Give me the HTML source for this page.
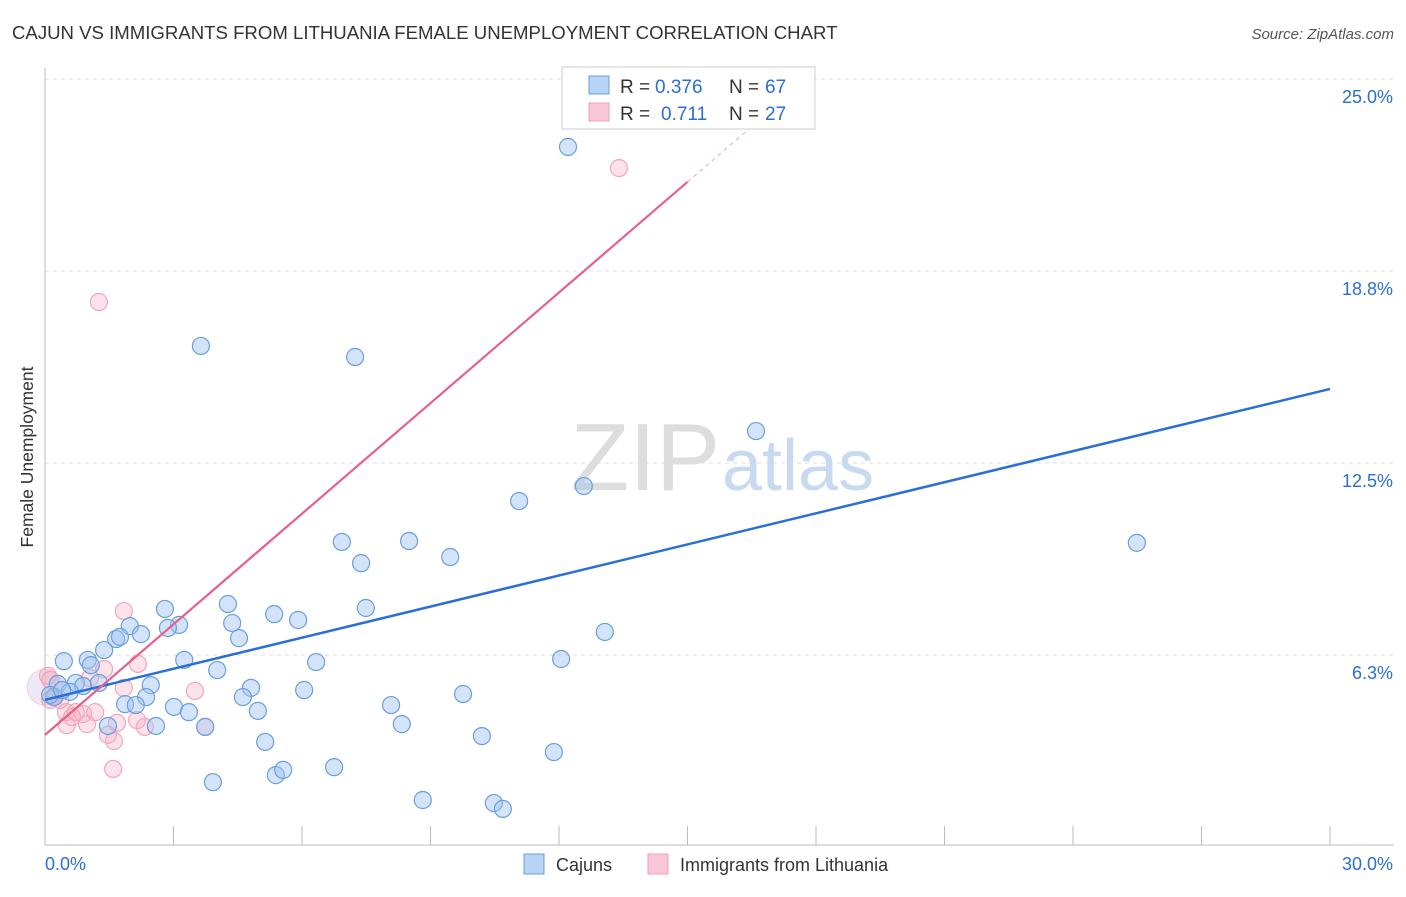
<!DOCTYPE html>
<html><head><meta charset="utf-8"><style>
body{margin:0;background:#fff;font-family:"Liberation Sans",sans-serif}
svg text{font-family:"Liberation Sans",sans-serif}
</style></head><body>
<svg id="c" width="1406" height="892">
<text x="12" y="39" font-size="18.6" fill="#333">CAJUN VS IMMIGRANTS FROM LITHUANIA FEMALE UNEMPLOYMENT CORRELATION CHART</text>
<text x="1394" y="39" font-size="15" fill="#555" font-style="italic" text-anchor="end">Source: ZipAtlas.com</text>
<text transform="translate(33,457) rotate(-90)" font-size="17.5" fill="#333" text-anchor="middle">Female Unemployment</text>
<g id="grid"></g>
<text x="720" y="490" font-size="96" fill="#ddd" font-family="Liberation Serif" text-anchor="end">ZIP</text>
<text x="722" y="490" font-size="72" fill="#c8daf0" text-anchor="start">atlas</text>
<g id="pts"></g>
<g id="lines"></g>
<rect x="562" y="67" width="253" height="62" fill="#fff" stroke="#ccc"/>
<rect x="589" y="76" width="20" height="18" fill="#b7d3f5" stroke="#6a9ee0"/>
<rect x="589" y="103" width="20" height="18" fill="#f8c6d4" stroke="#f0a0b8"/>
<g font-size="19" fill="#333">
<text x="620" y="93">R =</text><text x="655" y="93" fill="#2a6fd6">0.376</text><text x="729" y="93">N =</text><text x="765" y="93" fill="#2a6fd6">67</text>
</g>
<g font-size="19" fill="#333">
<text x="620" y="120">R =</text><text x="661" y="120" fill="#2a6fd6">0.711</text><text x="729" y="120">N =</text><text x="765" y="120" fill="#2a6fd6">27</text>
</g>
<rect x="524" y="854" width="20" height="20" fill="#b7d3f5" stroke="#6a9ee0"/>
<text x="556" y="871" font-size="18" fill="#333">Cajuns</text>
<rect x="648" y="854" width="20" height="20" fill="#f8c6d4" stroke="#f0a0b8"/>
<text x="680" y="871" font-size="18" fill="#333">Immigrants from Lithuania</text>
</svg>
<script>
const yTicks=[25,18.75,12.5,6.25];
const yTickLabels=["25.0%","18.8%","12.5%","6.3%"];
const xTickLabels=["0.0%","30.0%"];
const cajunX=[12.21,3.64,7.24,16.60,12.58,11.07,25.49,6.93,8.50,9.46,7.38,2.80,4.27,7.49,5.35,5.91,3.13,4.37,2.87,1.98,13.07,1.66,1.75,2.24,4.53,1.38,0.44,1.00,3.25,12.05,6.33,1.07,4.02,0.30,0.72,0.89,1.26,2.47,4.81,6.05,9.76,0.58,0.21,4.62,2.36,1.87,2.12,3.01,3.36,4.97,8.08,8.33,2.59,1.47,3.74,5.14,10.20,11.88,3.92,5.39,5.56,6.75,8.82,10.48,10.69,0.12,0.40];
const cajunY=[22.79,16.31,15.95,13.54,11.75,11.26,9.90,9.93,9.96,9.44,9.24,7.75,7.91,7.78,7.58,7.39,7.23,7.29,7.13,7.19,7.00,6.77,6.84,6.93,6.80,6.41,6.05,6.09,6.09,6.12,6.02,5.92,5.76,5.31,5.34,5.24,5.34,5.27,5.18,5.11,4.98,5.05,4.88,4.88,4.88,4.65,4.62,4.56,4.39,4.43,4.62,4.00,3.94,3.94,3.91,3.42,3.61,3.09,2.11,2.34,2.51,2.60,1.53,1.43,1.24,4.95,5.11];
const lithX=[13.40,1.26,1.84,2.17,1.38,0.07,1.05,1.84,3.50,0.23,0.12,0.49,0.72,0.89,1.17,0.63,1.68,2.15,2.33,0.51,0.98,3.74,1.47,1.61,1.59,0.12,0.35];
const lithY=[22.10,17.74,7.68,5.96,5.79,5.57,5.50,5.18,5.08,4.88,4.79,4.39,4.39,4.33,4.39,4.23,4.04,4.13,3.91,3.97,4.00,3.91,3.65,3.45,2.54,5.44,4.79];
const cajunFit=[4.79,14.91];
const lithFit=[3.65,1.2];
const X0=45,X1=1330,Y0=847,PX=192/6.25;
const sx=v=>X0+(v/30)*(X1-X0), sy=v=>Y0-v*PX;
const NS="http://www.w3.org/2000/svg";
function mk(tag,attrs,parent){const e=document.createElementNS(NS,tag);for(const k in attrs)e.setAttribute(k,attrs[k]);document.getElementById(parent).appendChild(e);return e;}
yTicks.forEach((t,i)=>{
 const l=mk('line',{x1:X0,x2:1394,y1:sy(t),y2:sy(t),stroke:'#ddd','stroke-dasharray':'4,4'},'grid');
 
 
 const tx=mk('text',{x:1393,y:sy(t)+24,'font-size':18,fill:'#2a6fd6','text-anchor':'end'},'grid');
 tx.textContent=yTickLabels[i];
 
 
});
let a=mk('line',{x1:X0,x2:X0,y1:68,y2:845,stroke:'#bbb'},'grid');


a=mk('line',{x1:X0,x2:1394,y1:845,y2:845,stroke:'#bbb'},'grid');


for(let i=0;i<=10;i++){
 const t=mk('line',{x1:sx(i*3),x2:sx(i*3),y1:826,y2:845,stroke:'#bbb'},'grid');
 
 
}
[[0,'start',45],[30,'end',1393]].forEach((d,i)=>{
 const tx=mk('text',{x:d[2],y:870,'font-size':18,fill:'#2a6fd6','text-anchor':d[1]},'grid');
 tx.textContent=xTickLabels[i];
 
 
});
let big=mk('circle',{cx:sx(0),cy:sy(5.2),r:18,fill:'rgba(210,185,220,0.35)',stroke:'rgba(230,180,205,0.5)'},'pts');


lithX.forEach((x,i)=>{
 const c=mk('circle',{cx:sx(x),cy:sy(lithY[i]),r:8.5,fill:'rgba(246,175,196,0.35)',stroke:'#f2a5bd','stroke-width':1.2},'pts');
 
 
});
cajunX.forEach((x,i)=>{
 const c=mk('circle',{cx:sx(x),cy:sy(cajunY[i]),r:8.5,fill:'rgba(160,196,240,0.45)',stroke:'#6a9ee0','stroke-width':1.2},'pts');
 
 
});
let bl=mk('line',{x1:sx(0),y1:sy(cajunFit[0]),x2:sx(30),y2:sy(cajunFit[1]),stroke:'#2a6fd6','stroke-width':2.5},'lines');


const xe=15.0;
let pl=mk('line',{x1:sx(0),y1:sy(lithFit[0]),x2:sx(xe),y2:sy(lithFit[0]+lithFit[1]*xe),stroke:'#e8608a','stroke-width':2.2},'lines');


const xd=17.0;
let pd=mk('line',{x1:sx(xe),y1:sy(lithFit[0]+lithFit[1]*xe),x2:sx(xd),y2:sy(lithFit[0]+lithFit[1]*xd),stroke:'#f0b0c4','stroke-width':1.2,'stroke-dasharray':'4,4'},'lines');


</script>
</body></html>
